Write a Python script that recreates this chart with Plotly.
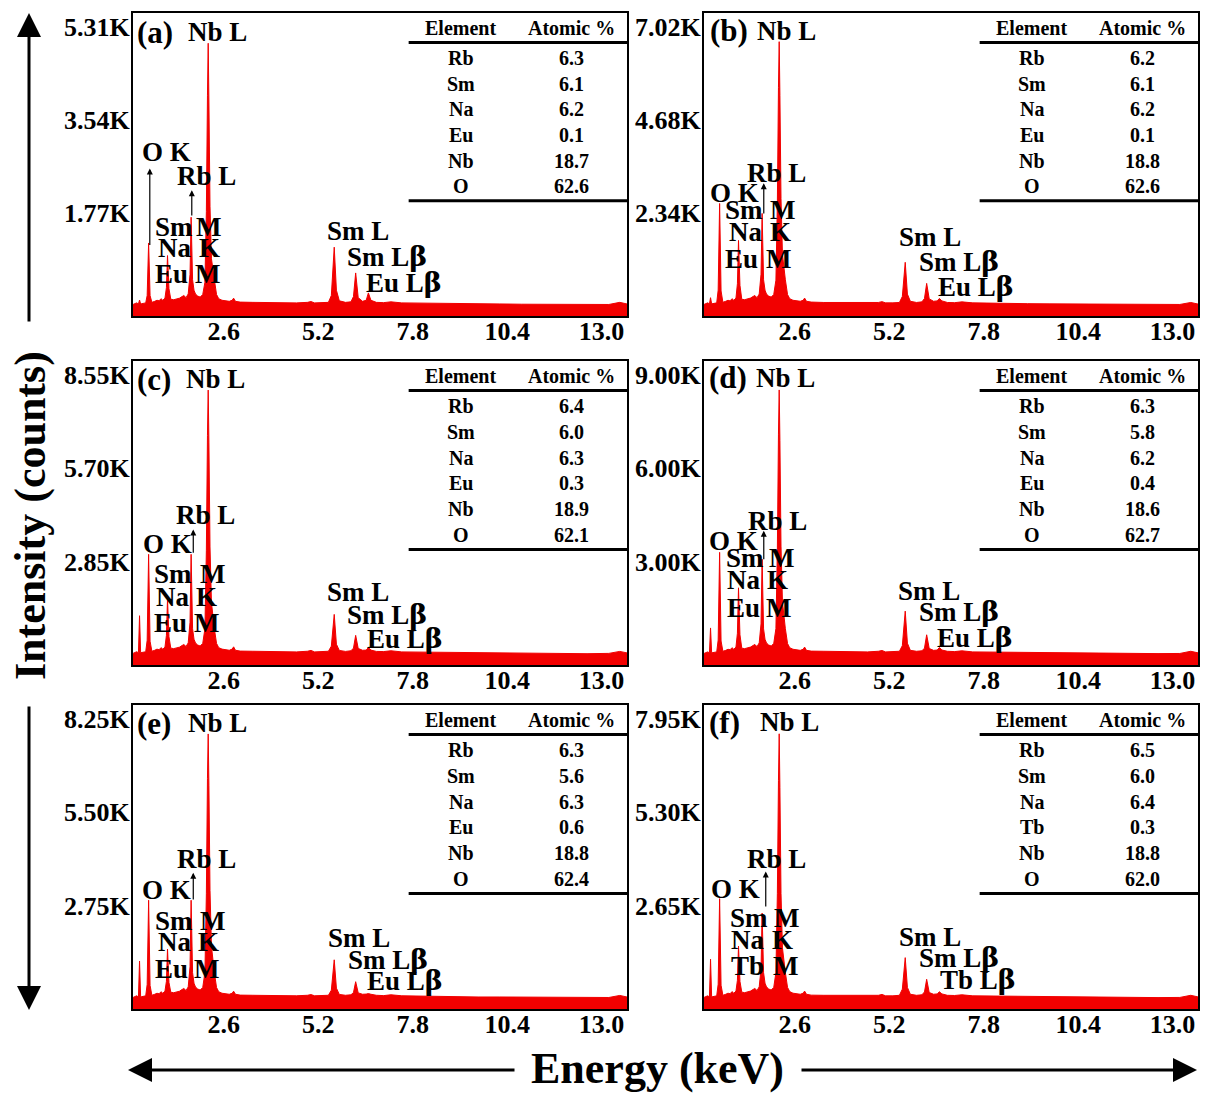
import plotly.graph_objects as go

# ---------------- data ----------------
energy_keV = [0.10, 0.20, 0.25, 0.28, 0.31, 0.38, 0.45, 0.49, 0.53, 0.57,
              0.62, 0.70, 0.76, 0.82, 0.87, 0.92, 0.98, 1.02, 1.05, 1.09,
              1.14, 1.22, 1.30, 1.38, 1.45, 1.50, 1.56, 1.62, 1.67, 1.70,
              1.74, 1.78, 1.82, 1.88, 1.95, 2.02, 2.08, 2.12, 2.15, 2.17,
              2.19, 2.22, 2.26, 2.30, 2.34, 2.40, 2.46, 2.55, 2.64, 2.75,
              2.83, 2.87, 2.92, 3.05, 3.40, 3.80, 4.20, 4.60, 4.90, 5.00,
              5.10, 5.30, 5.48, 5.56, 5.64, 5.70, 5.78, 5.95, 6.10, 6.17,
              6.23, 6.30, 6.42, 6.52, 6.58, 6.65, 6.80, 7.00, 7.20, 7.50,
              7.90, 8.40, 9.00, 9.60, 10.20, 10.80, 11.40, 12.00, 12.60, 13.20,
              13.50, 13.70]

counts_a = [30, 60, 40, 115, 40, 55, 60, 200, 1200, 200,
            70, 90, 110, 100, 140, 110, 150, 350, 960, 330,
            130, 120, 135, 150, 180, 200, 160, 230, 600, 1690,
            500, 300, 230, 190, 170, 220, 450, 1800, 4000, 5000,
            3900, 1900, 900, 650, 500, 220, 140, 110, 100, 90,
            110, 150, 90, 75, 70, 65, 65, 60, 70, 85,
            60, 60, 70, 200, 1120, 300, 100, 70, 80, 180,
            630, 160, 90, 110, 250, 110, 70, 65, 80, 60,
            55, 50, 45, 40, 40, 35, 35, 30, 25, 30,
            70, 40]
counts_b = [40, 80, 55, 210, 55, 75, 80, 400, 2580, 380,
            95, 120, 145, 130, 185, 145, 200, 560, 1650, 520,
            170, 160, 180, 200, 240, 265, 210, 300, 800, 2330,
            660, 400, 300, 250, 225, 290, 650, 2600, 5500, 6650,
            5300, 2700, 1300, 900, 660, 290, 185, 145, 130, 120,
            145, 200, 120, 100, 90, 85, 85, 80, 90, 110,
            80, 80, 90, 240, 1100, 300, 120, 90, 105, 190,
            570, 180, 120, 130, 190, 130, 90, 85, 105, 80,
            70, 65, 60, 55, 50, 45, 45, 40, 35, 40,
            90, 50]
counts_c = [50, 100, 70, 1200, 70, 90, 100, 450, 3075, 420,
            115, 145, 180, 160, 225, 180, 240, 600, 1710, 560,
            210, 195, 215, 240, 290, 320, 260, 370, 1000, 3075,
            800, 480, 370, 305, 275, 355, 800, 3200, 6700, 8090,
            6500, 3300, 1600, 1100, 800, 355, 225, 180, 160, 145,
            180, 250, 145, 120, 115, 105, 105, 95, 115, 140,
            95, 95, 115, 270, 1240, 330, 140, 110, 130, 210,
            600, 200, 145, 150, 230, 150, 110, 105, 130, 95,
            90, 80, 70, 65, 65, 55, 55, 50, 40, 50,
            110, 65]
counts_d = [50, 100, 70, 870, 70, 95, 100, 480, 3300, 450,
            120, 150, 185, 170, 235, 185, 255, 700, 2160, 650,
            220, 205, 230, 255, 305, 340, 270, 390, 1000, 3080,
            840, 505, 390, 320, 290, 370, 850, 3400, 7100, 8520,
            6900, 3500, 1700, 1150, 845, 370, 235, 185, 170, 150,
            185, 255, 150, 125, 120, 110, 110, 100, 120, 145,
            100, 100, 120, 300, 1410, 380, 150, 120, 135, 220,
            650, 210, 150, 160, 240, 160, 120, 110, 135, 100,
            95, 85, 75, 70, 65, 60, 60, 50, 45, 50,
            120, 70]
counts_e = [45, 95, 60, 1120, 60, 85, 95, 430, 2910, 400,
            110, 140, 170, 155, 215, 170, 230, 520, 1470, 490,
            200, 185, 210, 230, 280, 310, 250, 355, 950, 2910,
            775, 465, 355, 295, 265, 340, 780, 3100, 6500, 7810,
            6300, 3200, 1550, 1050, 775, 340, 215, 170, 155, 140,
            170, 230, 140, 115, 110, 100, 100, 95, 110, 130,
            95, 95, 110, 260, 1155, 320, 135, 110, 125, 190,
            510, 180, 140, 145, 160, 140, 110, 100, 125, 95,
            85, 75, 70, 60, 60, 55, 55, 45, 40, 45,
            105, 60]
counts_f = [45, 90, 60, 1130, 60, 80, 90, 420, 2850, 390,
            105, 135, 165, 150, 210, 165, 225, 530, 1505, 500,
            195, 180, 205, 225, 270, 300, 240, 345, 850, 2440,
            750, 450, 345, 285, 255, 330, 750, 3000, 6200, 7530,
            6000, 3000, 1450, 1000, 750, 330, 210, 165, 150, 135,
            165, 225, 135, 110, 105, 100, 100, 90, 105, 130,
            90, 90, 105, 280, 1175, 330, 135, 105, 120, 200,
            560, 185, 135, 145, 205, 145, 105, 100, 120, 90,
            85, 75, 70, 60, 60, 55, 55, 45, 40, 45,
            105, 60]

panel_letters = ["(a)", "(b)", "(c)", "(d)", "(e)", "(f)"]
y_tick_values = [[1770, 3540, 5310], [2340, 4680, 7020], [2850, 5700, 8550],
                 [3000, 6000, 9000], [2750, 5500, 8250], [2650, 5300, 7950]]
y_tick_labels = [["1.77K", "3.54K", "5.31K"], ["2.34K", "4.68K", "7.02K"],
                 ["2.85K", "5.70K", "8.55K"], ["3.00K", "6.00K", "9.00K"],
                 ["2.75K", "5.50K", "8.25K"], ["2.65K", "5.30K", "7.95K"]]
x_tick_values = [2.6, 5.2, 7.8, 10.4, 13.0]
x_tick_labels = ["2.6", "5.2", "7.8", "10.4", "13.0"]

table_elements = [["Rb", "Sm", "Na", "Eu", "Nb", "O"],
                  ["Rb", "Sm", "Na", "Eu", "Nb", "O"],
                  ["Rb", "Sm", "Na", "Eu", "Nb", "O"],
                  ["Rb", "Sm", "Na", "Eu", "Nb", "O"],
                  ["Rb", "Sm", "Na", "Eu", "Nb", "O"],
                  ["Rb", "Sm", "Na", "Tb", "Nb", "O"]]
table_atomic = [["6.3", "6.1", "6.2", "0.1", "18.7", "62.6"],
                ["6.2", "6.1", "6.2", "0.1", "18.8", "62.6"],
                ["6.4", "6.0", "6.3", "0.3", "18.9", "62.1"],
                ["6.3", "5.8", "6.2", "0.4", "18.6", "62.7"],
                ["6.3", "5.6", "6.3", "0.6", "18.8", "62.4"],
                ["6.5", "6.0", "6.4", "0.3", "18.8", "62.0"]]

all_counts = [counts_a, counts_b, counts_c, counts_d, counts_e, counts_f]
for c in all_counts:
    assert len(c) == len(energy_keV)

# ---------------- layout helpers (positions / styles) ----------------
FONT = "Liberation Serif, Times New Roman, serif"
RED = "rgb(242,0,0)"
W, H = 1208, 1093
col_px = [(133, 627), (704, 1198)]
row_px = [(13, 316), (361, 665), (705, 1009)]
X_RANGE = [0.1, 13.7]
BETA = '<span style="font-family:DejaVu Serif">β</span>'

# peak-label placement per panel: (text, left fraction, vertical-centre fraction)
peak_labels = [
    [("Nb L", 0.108, 0.937), ("O K", 0.014, 0.542), ("Rb L", 0.085, 0.4615),
     ("Sm", 0.041, 0.2945), ("M", 0.124, 0.2945), ("Na", 0.047, 0.223), ("K", 0.129, 0.223),
     ("Eu", 0.041, 0.138), ("M", 0.122, 0.138), ("Sm L", 0.388, 0.281),
     ("Sm L" + BETA, 0.429, 0.196), ("Eu L" + BETA, 0.468, 0.112)],
    [("Nb L", 0.103, 0.942), ("O K", 0.009, 0.405), ("Rb L", 0.084, 0.471),
     ("Sm", 0.039, 0.349), ("M", 0.129, 0.349), ("Na", 0.046, 0.277), ("K", 0.129, 0.277),
     ("Eu", 0.039, 0.188), ("M", 0.121, 0.188), ("Sm L", 0.39, 0.26),
     ("Sm L" + BETA, 0.431, 0.18), ("Eu L" + BETA, 0.47, 0.096)],
    [("Nb L", 0.104, 0.94), ("O K", 0.0155, 0.397), ("Rb L", 0.083, 0.495),
     ("Sm", 0.039, 0.299), ("M", 0.132, 0.299), ("Na", 0.043, 0.223), ("K", 0.124, 0.223),
     ("Eu", 0.039, 0.138), ("M", 0.119, 0.138), ("Sm L", 0.388, 0.239),
     ("Sm L" + BETA, 0.43, 0.166), ("Eu L" + BETA, 0.469, 0.087)],
    [("Nb L", 0.102, 0.945), ("O K", 0.007, 0.409), ("Rb L", 0.085, 0.475),
     ("Sm", 0.040, 0.351), ("M", 0.128, 0.351), ("Na", 0.043, 0.278), ("K", 0.124, 0.278),
     ("Eu", 0.043, 0.188), ("M", 0.121, 0.188), ("Sm L", 0.388, 0.245),
     ("Sm L" + BETA, 0.431, 0.175), ("Eu L" + BETA, 0.468, 0.091)],
    [("Nb L", 0.107, 0.94), ("O K", 0.015, 0.39), ("Rb L", 0.085, 0.492),
     ("Sm", 0.041, 0.29), ("M", 0.132, 0.29), ("Na", 0.046, 0.219), ("K", 0.127, 0.219),
     ("Eu", 0.041, 0.133), ("M", 0.12, 0.133), ("Sm L", 0.391, 0.232),
     ("Sm L" + BETA, 0.432, 0.164), ("Eu L" + BETA, 0.47, 0.093)],
    [("Nb L", 0.109, 0.943), ("O K", 0.011, 0.395), ("Rb L", 0.084, 0.493),
     ("Sm", 0.049, 0.298), ("M", 0.138, 0.298), ("Na", 0.051, 0.226), ("K", 0.133, 0.226),
     ("Tb", 0.051, 0.142), ("M", 0.135, 0.142), ("Sm L", 0.39, 0.237),
     ("Sm L" + BETA, 0.431, 0.168), ("Tb L" + BETA, 0.473, 0.098)],
]
letter_pos = [(0.004, 0.937), (0.008, 0.942), (0.005, 0.94), (0.006, 0.945), (0.005, 0.94), (0.006, 0.943)]
# small arrows: (x fraction, tip fraction, tail fraction)
small_arrows = [
    [(0.034, 0.487, 0.229), (0.119, 0.415, 0.327)],
    [(0.121, 0.438, 0.333)],
    [(0.122, 0.446, 0.364)],
    [(0.121, 0.442, 0.343)],
    [(0.122, 0.448, 0.355)],
    [(0.125, 0.452, 0.332)],
]

fig = go.Figure()
annotations = []
shapes = []
layout_axes = {}

for i in range(6):
    row, col = i // 2, i % 2
    xid = "x" if i == 0 else f"x{i+1}"
    yid = "y" if i == 0 else f"y{i+1}"
    xkey = "xaxis" if i == 0 else f"xaxis{i+1}"
    ykey = "yaxis" if i == 0 else f"yaxis{i+1}"
    x0p, x1p = col_px[col]
    y0p, y1p = row_px[row]
    frame_h = y1p - y0p
    step = y_tick_values[i][0]
    ymin, ymax = -0.107 * step, 3.15 * step

    # baseline at the bottom of the frame, then the spectrum filled down to it
    fig.add_trace(go.Scatter(x=[X_RANGE[0], X_RANGE[1]], y=[ymin, ymin], mode="lines",
                             line=dict(width=0, color=RED), xaxis=xid, yaxis=yid,
                             showlegend=False, hoverinfo="skip"))
    fig.add_trace(go.Scatter(x=energy_keV, y=all_counts[i], mode="lines",
                             line=dict(width=1, color=RED), fill="tonexty", fillcolor=RED,
                             xaxis=xid, yaxis=yid, showlegend=False))

    layout_axes[xkey] = dict(domain=[x0p / W, x1p / W], range=X_RANGE, anchor=yid,
                             tickvals=x_tick_values, ticktext=x_tick_labels,
                             tickfont=dict(family=FONT, size=26, color="black", weight="bold"),
                             ticklabelstandoff=-9,
                             showline=True, mirror=True, linecolor="black", linewidth=2,
                             showgrid=False, zeroline=False, ticks="")
    layout_axes[ykey] = dict(domain=[1 - y1p / H, 1 - y0p / H], range=[ymin, ymax], anchor=xid,
                             tickvals=y_tick_values[i], ticktext=y_tick_labels[i],
                             tickfont=dict(family=FONT, size=26, color="black", weight="bold"),
                             ticklabelstandoff=-4,
                             showline=True, mirror=True, linecolor="black", linewidth=2,
                             showgrid=False, zeroline=False, ticks="")

    xr, yr = f"{xid} domain", f"{yid} domain"
    lx, ly = letter_pos[i]
    annotations.append(dict(text=panel_letters[i], x=lx, y=ly, xref=xr, yref=yr,
                            xanchor="left", yanchor="middle", showarrow=False,
                            font=dict(family=FONT, size=31, color="black", weight="bold")))
    for (txt, fx, fy) in peak_labels[i]:
        annotations.append(dict(text=txt, x=fx, y=fy, xref=xr, yref=yr,
                                xanchor="left", yanchor="middle", showarrow=False,
                                font=dict(family=FONT, size=27, color="black", weight="bold")))
    for (fx, tip, tail) in small_arrows[i]:
        annotations.append(dict(text="", x=fx, y=tip, xref=xr, yref=yr, showarrow=True,
                                ax=0, ay=(tip - tail) * frame_h, arrowhead=2, arrowsize=1,
                                arrowwidth=1.2, arrowcolor="black", standoff=0, startstandoff=0))

    # inset table
    annotations.append(dict(text="Element", x=0.663, y=0.952, xref=xr, yref=yr,
                            xanchor="center", yanchor="middle", showarrow=False,
                            font=dict(family=FONT, size=20, color="black", weight="bold")))
    annotations.append(dict(text="Atomic %", x=0.887, y=0.952, xref=xr, yref=yr,
                            xanchor="center", yanchor="middle", showarrow=False,
                            font=dict(family=FONT, size=20, color="black", weight="bold")))
    for k in range(6):
        yy = 0.851 - k * 0.0846
        annotations.append(dict(text=table_elements[i][k], x=0.663, y=yy, xref=xr, yref=yr,
                                xanchor="center", yanchor="middle", showarrow=False,
                                font=dict(family=FONT, size=20, color="black", weight="bold")))
        annotations.append(dict(text=table_atomic[i][k], x=0.887, y=yy, xref=xr, yref=yr,
                                xanchor="center", yanchor="middle", showarrow=False,
                                font=dict(family=FONT, size=20, color="black", weight="bold")))
    for ly_line in (0.903, 0.38):
        shapes.append(dict(type="line", xref=xr, yref=yr, x0=0.558, x1=1.0,
                           y0=ly_line, y1=ly_line, line=dict(color="black", width=3)))

# global axis titles with arrows
annotations.append(dict(text="Intensity (counts)", x=30 / W, y=1 - 516 / H, xref="paper", yref="paper",
                        textangle=-90, showarrow=False, xanchor="center", yanchor="middle",
                        font=dict(family=FONT, size=44, color="black", weight="bold")))
annotations.append(dict(text="Energy (keV)", x=657 / W, y=1 - 1068 / H, xref="paper", yref="paper",
                        showarrow=False, xanchor="center", yanchor="middle",
                        font=dict(family=FONT, size=44, color="black", weight="bold")))
big = dict(text="", xref="paper", yref="paper", showarrow=True, arrowhead=2, arrowsize=1.6,
           arrowwidth=3, arrowcolor="black", standoff=0, startstandoff=0)
annotations.append(dict(big, x=29 / W, y=1 - 13 / H, ax=0, ay=310))
annotations.append(dict(big, x=29 / W, y=1 - 1010 / H, ax=0, ay=-305))
annotations.append(dict(big, x=128 / W, y=1 - 1070 / H, ax=388, ay=0))
annotations.append(dict(big, x=1197 / W, y=1 - 1070 / H, ax=-397, ay=0))

fig.update_layout(width=W, height=H, margin=dict(l=0, r=0, t=0, b=0),
                  paper_bgcolor="white", plot_bgcolor="white",
                  annotations=annotations, shapes=shapes, showlegend=False,
                  font=dict(family=FONT, color="black"), **layout_axes)

fig.write_html("out.html")
